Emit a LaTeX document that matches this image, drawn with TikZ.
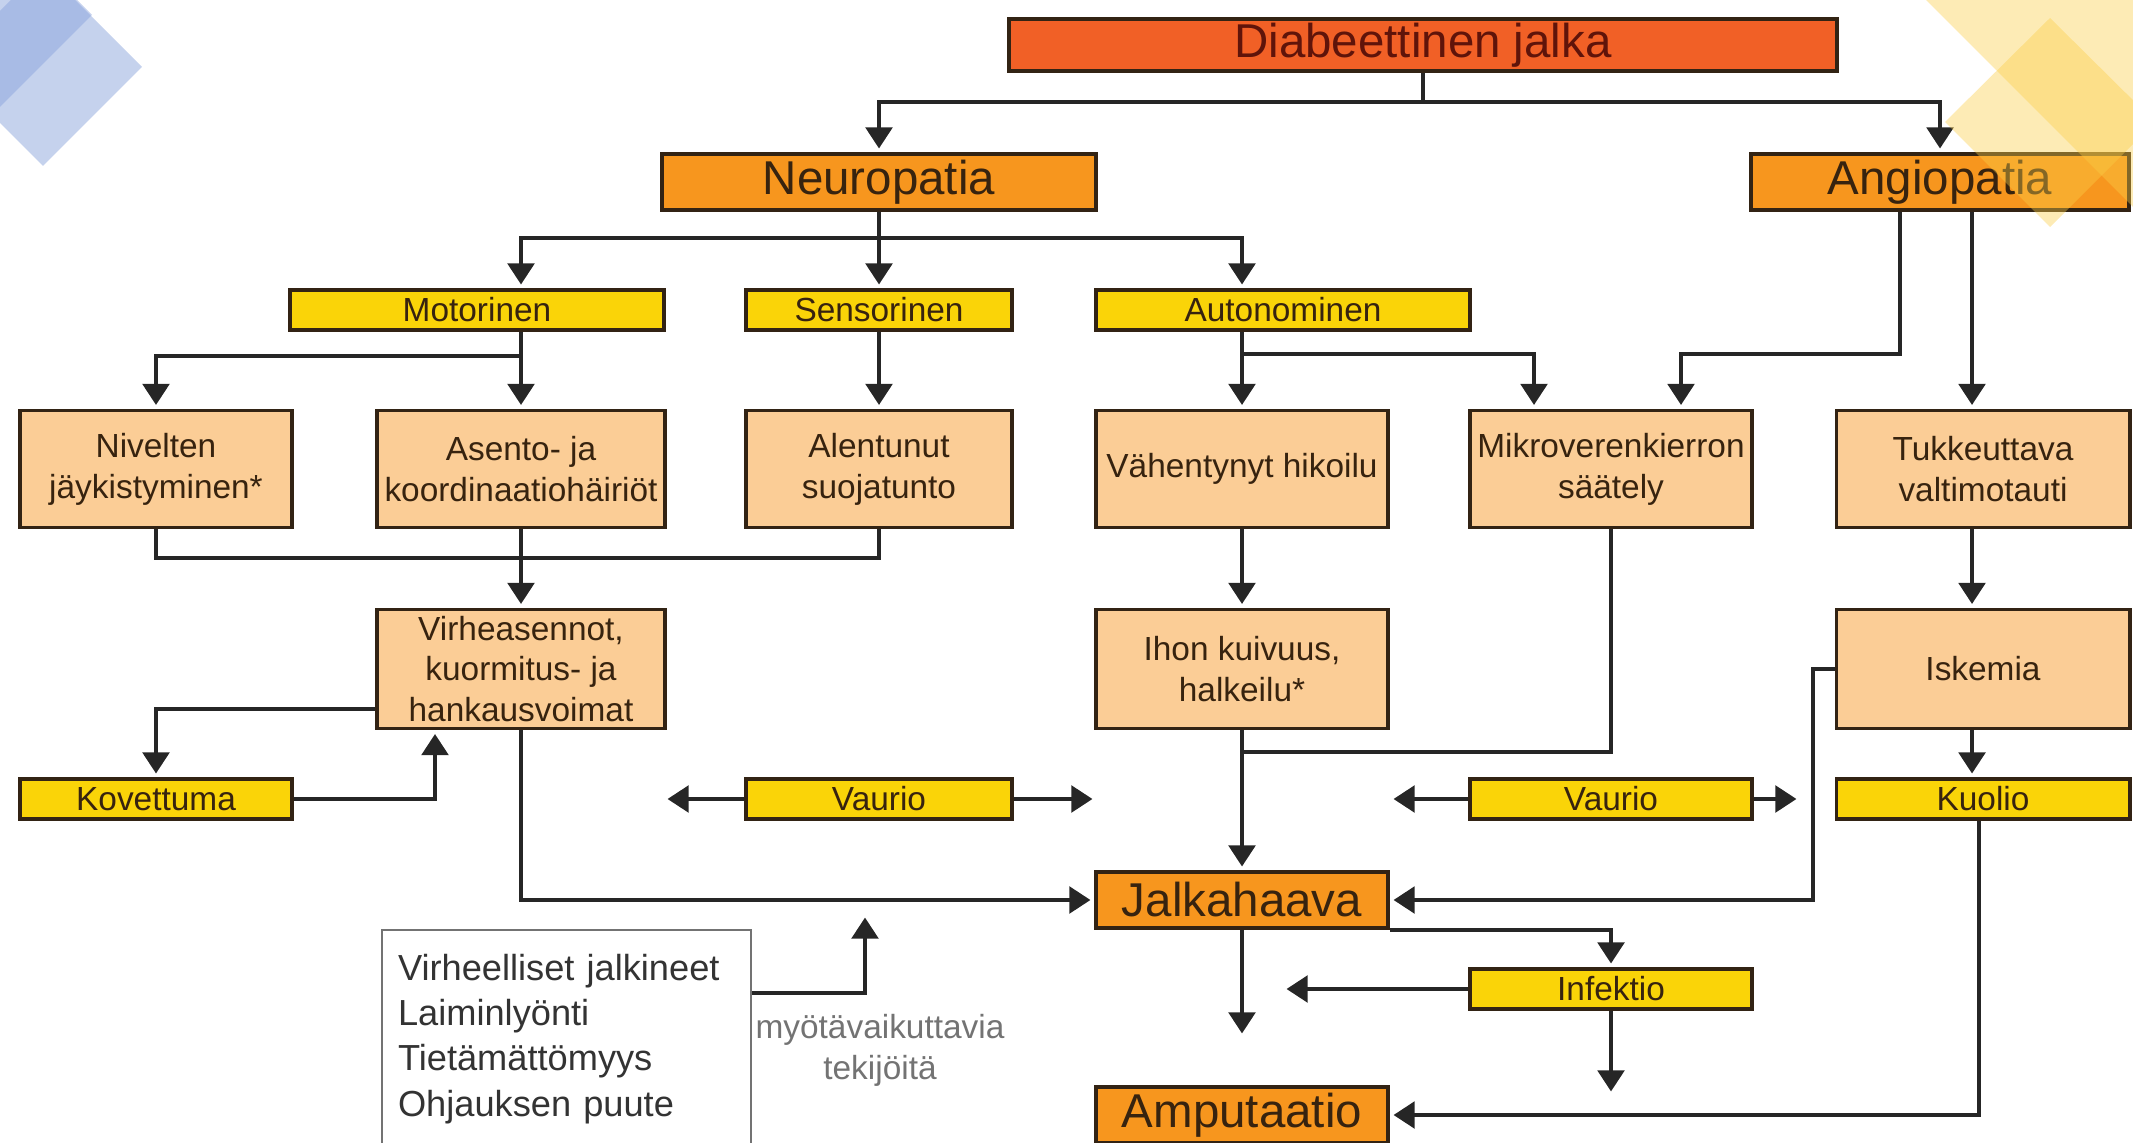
\documentclass[tikz,border=0pt]{standalone}
\usepackage{fontspec}
\setmainfont{Liberation Sans}
\usetikzlibrary{arrows.meta}

\definecolor{titlecol}{RGB}{241,96,38}
\definecolor{maincol}{RGB}{247,150,30}
\definecolor{subcol}{RGB}{250,212,8}
\definecolor{causecol}{RGB}{251,205,150}
\definecolor{boxline}{RGB}{50,35,20}
\definecolor{boxtext}{RGB}{55,35,15}
\definecolor{titletext}{RGB}{95,20,10}
\definecolor{decoblue}{RGB}{140,165,220}
\definecolor{decoyellow}{RGB}{250,205,70}

\begin{document}
\begin{tikzpicture}[x=0.01cm, y=-0.01cm,
          >={Triangle[width=7.5pt,length=6pt]},
          box/.style={draw=boxline, line width=1.1pt, inner sep=0pt, align=center, text=boxtext},
          top box/.style={box, fill=titlecol, text=titletext, font=\fontsize{13.5}{16}\selectfont},
          main box/.style={box, fill=maincol, minimum height=0.56cm, font=\fontsize{13.5}{16}\selectfont},
          sub box/.style={box, fill=subcol, minimum height=0.40cm, font=\fontsize{9.5}{11}\selectfont},
          cause box/.style={box, fill=causecol, minimum height=1.17cm, font=\fontsize{9.5}{11.6}\selectfont},
          line/.style={line width=1.2pt, draw=black!85},
          arr/.style={line, ->, shorten >=1pt}]
          \useasboundingbox (0,0) rectangle (2133,1143);
          % top
          \node[top box, minimum width=8.27cm, minimum height=0.52cm] (dj) at (1423,45) {Diabeettinen jalka};
          \node[main box, minimum width=4.34cm] (neuro) at (879,182) {Neuropatia};
          \node[main box, minimum width=3.78cm] (angio) at (1940,182) {Angiopatia};
          % neuropathy types
          \node[sub box, minimum width=3.73cm] (motor) at (477,310) {Motorinen};
          \node[sub box, minimum width=2.65cm] (senso) at (879,310) {Sensorinen};
          \node[sub box, minimum width=3.74cm] (auto) at (1283,310) {Autonominen};
          % causes
          \node[cause box, minimum width=2.72cm] (nivel) at (156,469) {Nivelten\\jäykistyminen*};
          \node[cause box, minimum width=2.88cm] (asento) at (521,469) {Asento- ja\\koordinaatiohäiriöt};
          \node[cause box, minimum width=2.65cm] (suoja) at (879,469) {Alentunut\\suojatunto};
          \node[cause box, minimum width=2.92cm] (hiki) at (1242,469) {Vähentynyt hikoilu};
          \node[cause box, minimum width=2.82cm] (mikro) at (1611,469) {Mikroverenkierron\\säätely};
          \node[cause box, minimum width=2.93cm] (tukos) at (1983,469) {Tukkeuttava\\valtimotauti};
          \node[cause box, minimum width=2.88cm, minimum height=1.19cm] (virhe) at (521,669) {Virheasennot,\\kuormitus- ja\\hankausvoimat};
          \node[cause box, minimum width=2.92cm, minimum height=1.19cm] (iho) at (1242,669) {Ihon kuivuus,\\halkeilu*};
          \node[cause box, minimum width=2.93cm, minimum height=1.19cm] (iskemia) at (1983,669) {Iskemia};
          % damage row
          \node[sub box, minimum width=2.72cm] (kovet) at (156,799) {Kovettuma};
          \node[sub box, minimum width=2.65cm] (vaurio1) at (879,799) {Vaurio};
          \node[sub box, minimum width=2.82cm] (vaurio2) at (1611,799) {Vaurio};
          \node[sub box, minimum width=2.93cm] (kuolio) at (1983,799) {Kuolio};
          % outcome
          \node[main box, minimum width=2.92cm] (haava) at (1242,900) {Jalkahaava};
          \node[sub box, minimum width=2.82cm] (infek) at (1611,989) {Infektio};
          \node[main box, minimum width=2.92cm] (amput) at (1242,1115) {Amputaatio};
          \node[draw=black!55, line width=0.6pt, fill=white, anchor=north west, align=left,
                text width=3.37cm, inner xsep=0.16cm, inner ysep=0pt, minimum width=3.69cm,
                minimum height=2.18cm, text=black!80, font=\fontsize{10.3}{12.8}\selectfont]
                (tekijat) at (381,929) {Virheelliset jalkineet\\Laiminlyönti\\Tietämättömyys\\Ohjauksen puute};
          \node[align=center, text=black!55, font=\fontsize{9.5}{11.6}\selectfont] (myota) at (880,1050) {myötävaikuttavia\\tekijöitä};

          % bend levels
          \coordinate (lvl1) at (0,102);
          \coordinate (lvl2) at (0,238);
          \coordinate (lvl3) at (0,356);
          \coordinate (lvl4) at (0,558);
          \coordinate (m1) at (1534,354);
          \coordinate (a1) at (1900,354);
          \coordinate (a2) at (1681,354);
          \coordinate (a3) at (1972,0);
          \coordinate (v1) at (0,709);
          \coordinate (k1) at (435,0);
          \coordinate (m2) at (0,752);
          \coordinate (i1) at (1813,0);
          \coordinate (k2) at (1979,0);
          \coordinate (vl1) at (664,799);
          \coordinate (vr1) at (1096,799);
          \coordinate (vl2) at (1390,799);
          \coordinate (vr2) at (1800,799);
          \coordinate (h1) at (1242,1037);
          \coordinate (f1) at (1283,989);
          \coordinate (f2) at (1611,1095);
          \coordinate (t0) at (0,993);
          \coordinate (t1) at (865,914);

          \draw[arr] (dj.south) -- (dj.south |- lvl1) -| (neuro.north);
          \draw[arr] (dj.south |- lvl1) -| (angio.north);
          \draw[arr] (neuro.south) -- (senso.north);
          \draw[arr] (neuro.south |- lvl2) -| (asento.north |- motor.north);
          \draw[arr] (neuro.south |- lvl2) -| (hiki.north |- auto.north);
          \draw[arr] (asento.north |- motor.south) -- (asento.north);
          \draw[arr] (asento.north |- lvl3) -| (nivel.north);
          \draw[arr] (senso.south) -- (suoja.north);
          \draw[arr] (hiki.north |- auto.south) -- (hiki.north);
          \draw[arr] (hiki.north |- m1) -| (mikro.north -| m1);
          \draw[arr] (angio.south -| a1) -- (a1) -| (mikro.north -| a2);
          \draw[arr] (angio.south -| a3) -- (tukos.north -| a3);
          \draw[line] (nivel.south) |- (suoja.south |- lvl4) -- (suoja.south);
          \draw[arr] (asento.south) -- (virhe.north);
          \draw[arr] (hiki.south) -- (iho.north);
          \draw[arr] (tukos.south -| a3) -- (iskemia.north -| a3);
          \draw[arr] (virhe.west |- v1) -| (kovet.north);
          \draw[arr] (kovet.east) -| (virhe.south -| k1);
          \draw[arr] (virhe.south) |- (haava.west);
          \draw[arr] (vaurio1.west) -- (vl1);
          \draw[arr] (vaurio1.east) -- (vr1);
          \draw[arr] (vaurio2.west) -- (vl2);
          \draw[arr] (vaurio2.east) -- (vr2);
          \draw[arr] (iho.south) -- (haava.north);
          \draw[line] (mikro.south) |- (iho.south |- m2);
          \draw[arr] (iskemia.west) -- (iskemia.west -| i1) |- (haava.east);
          \draw[arr] (iskemia.south -| a3) -- (kuolio.north -| a3);
          \draw[arr] (kuolio.south -| k2) |- (amput.east);
          \draw[arr] (haava.south) -- (h1);
          \draw[arr] (haava.south east) -| (infek.north);
          \draw[arr] (infek.west) -- (f1);
          \draw[arr] (infek.south) -- (f2);
          \draw[arr] (tekijat.east |- t0) -| (t1);

          % corner decorations
          \fill[decoblue, fill opacity=0.5] (43,-32) -- (142,67) -- (43,166) -- (-56,67) -- cycle;
          \fill[decoblue, fill opacity=0.5] (-7,-84) -- (92,15) -- (-7,114) -- (-106,15) -- cycle;
          \fill[decoyellow, fill opacity=0.4] (1926,0) -- (2143,217) -- (2143,-10) -- (1916,-10) -- cycle;
          \fill[decoyellow, fill opacity=0.4] (2050,18) -- (2155,122) -- (2050,227) -- (1945,122) -- cycle;
      \end{tikzpicture}
\end{document}
